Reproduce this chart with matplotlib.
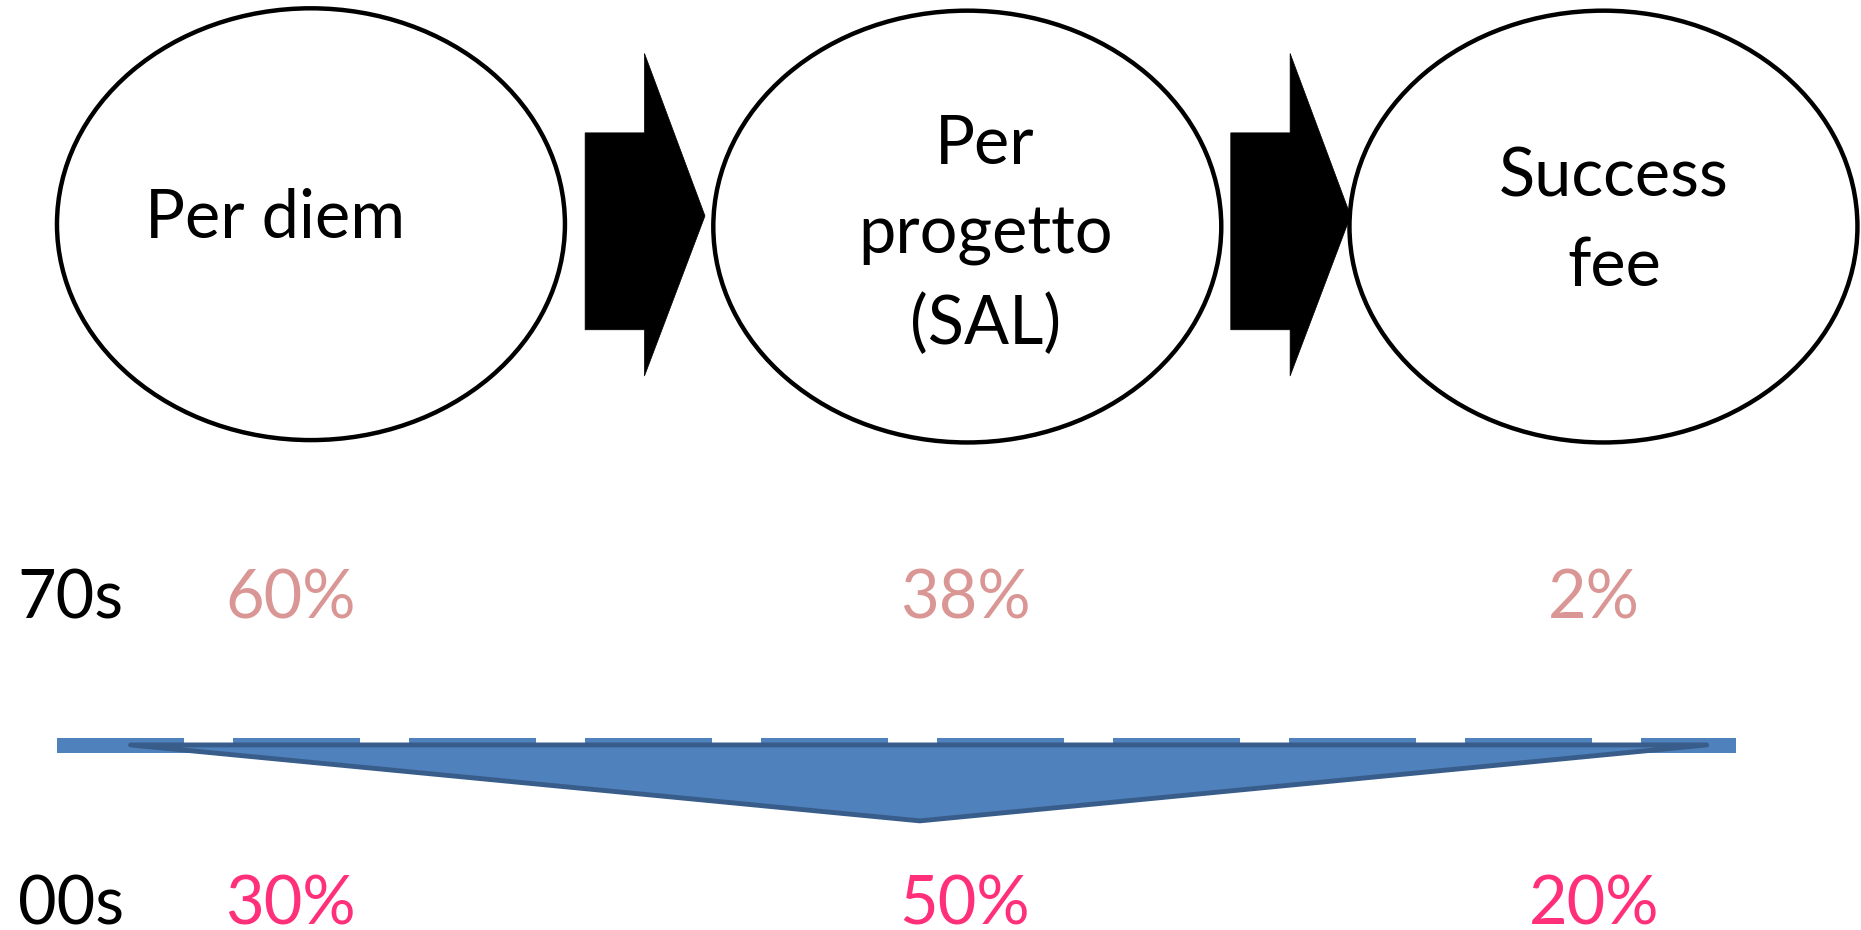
import matplotlib
matplotlib.use("Agg")
import matplotlib.pyplot as plt
from matplotlib.patches import Ellipse, Polygon, Rectangle
import numpy as np

# stages of the fee model
stages = ["Per diem", "Per\nprogetto\n(SAL)", "Success\nfee"]
periods = ["70s", "00s"]
share_70s = [60, 38, 2]
share_00s = [30, 50, 20]

pink_light = "#D99694"
pink_hot = "#FF2F7A"
blue = "#4F81BD"
blue_dark = "#385D8A"

plt.rcParams["font.family"] = ["Lato", "DejaVu Sans"]

fig = plt.figure(figsize=(18.61, 9.30), dpi=100)
ax = fig.add_axes([0, 0, 1, 1])
ax.set_xlim(0, 1568)
ax.set_ylim(784, 0)
ax.axis("off")

# layout (canvas units)
ell_cx = [262, 815, 1351]
ell_cy = [189, 191, 191]
ell_w, ell_h = 428, 364
text_cx = [232, 830, 1360]
text_cy = [185, 198, 187]
col_x = [245, 813, 1343]

for cx, cy, label, tx, ty in zip(ell_cx, ell_cy, stages, text_cx, text_cy):
    ax.add_patch(Ellipse((cx, cy), ell_w, ell_h, facecolor="white",
                         edgecolor="black", linewidth=3.2, zorder=2))
    ax.text(tx, ty, label, ha="center", va="center", fontsize=48,
            linespacing=1.55, zorder=3)

# block arrows between the stages
for x0 in [493, 1037]:
    pts = [(x0, 112), (x0 + 50, 112), (x0 + 50, 45), (x0 + 101, 182),
           (x0 + 50, 317), (x0 + 50, 278), (x0, 278)]
    ax.add_patch(Polygon(pts, closed=True, facecolor="black",
                         edgecolor="black", linewidth=0.5, zorder=1))

# period labels and shares
for label, shares, y, color in [(periods[0], share_70s, 521, pink_light),
                                (periods[1], share_00s, 779, pink_hot)]:
    ax.text(15, y, label, ha="left", va="baseline", fontsize=48, color="black")
    for x, v in zip(col_x, shares):
        ax.text(x, y, f"{v}%", ha="center", va="baseline", fontsize=48,
                color=color)

# shift bar with dashed top edge
ax.add_patch(Rectangle((48, 626.5), 1415, 8.5, facecolor=blue,
                       edgecolor="none", zorder=1))
starts = np.arange(48, 1463, 148.3)
ax.broken_barh([(s, min(107, 1463 - s)) for s in starts], (622, 5),
               facecolors=blue, zorder=1)

# downward triangle
ax.add_patch(Polygon([(110, 628), (1438, 628), (775, 692)], closed=True,
                     facecolor=blue, edgecolor=blue_dark, linewidth=3.5,
                     joinstyle="round", zorder=2))

fig.savefig("out.png", dpi=100, facecolor="white")
